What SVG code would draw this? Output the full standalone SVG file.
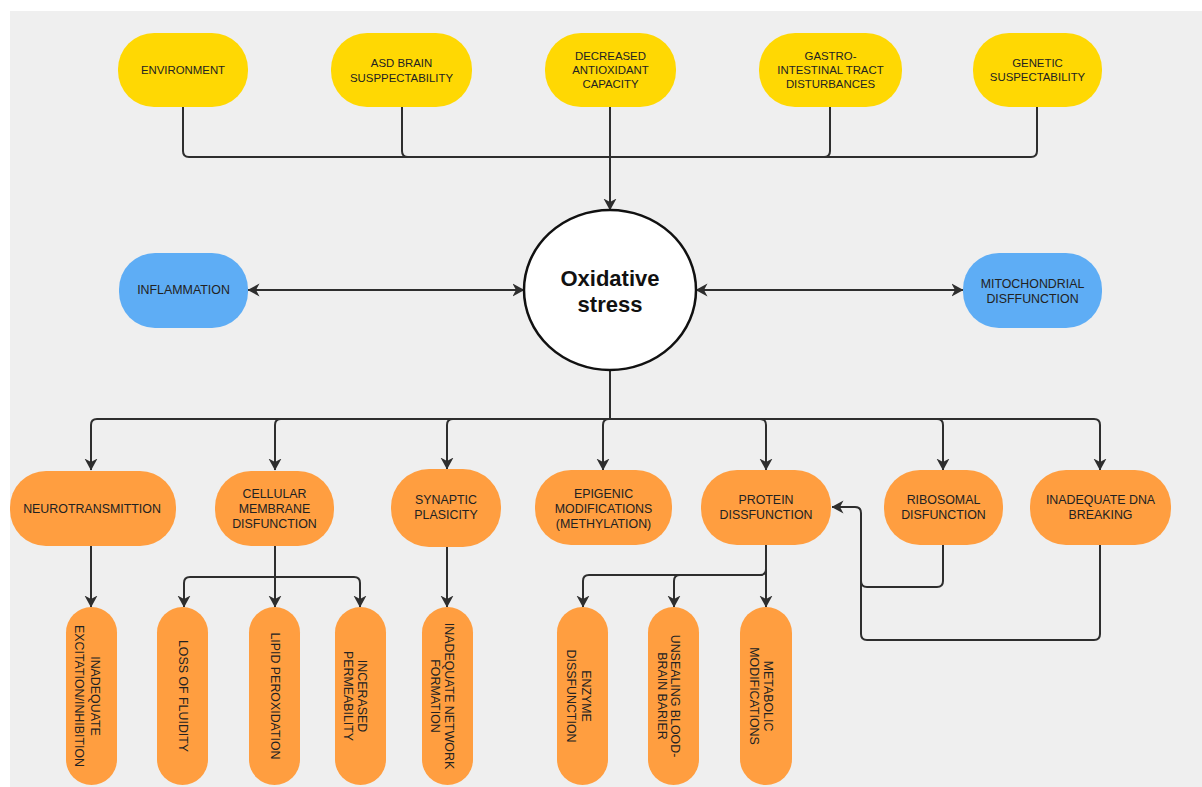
<svg xmlns="http://www.w3.org/2000/svg" width="1202" height="787" viewBox="0 0 1202 787">
<defs>
<style>
.y{fill:#FFD803}
.b{fill:#5EADF5}
.o{fill:#FF9E40}
.t{font-family:"Liberation Sans",Arial,sans-serif;font-size:11.4px;fill:#222;text-anchor:middle;dominant-baseline:central}
.to{font-size:12.4px}
.c{fill:none;stroke:#2e2e2e;stroke-width:2}
.a{marker-end:url(#ah)}
</style>
<marker id="ah" viewBox="0 0 12 14" refX="11.5" refY="7" markerWidth="12" markerHeight="14" markerUnits="userSpaceOnUse" orient="auto-start-reverse">
<path d="M0,0.5 L12,7 L0,13.5 L3.5,7 z" fill="#2e2e2e"/>
</marker>
</defs>
<rect x="0" y="0" width="1202" height="787" fill="#ffffff"/>
<rect x="10" y="11" width="1192" height="776" fill="#EFEFEF"/>

<g id="connectors">
<path class="c" d="M183 107 V151 Q183 157 189 157 H1031 Q1037 157 1037 151 V107"/>
<path class="c" d="M402 107 V151 Q402 157 408 157"/>
<path class="c" d="M830 107 V151 Q830 157 824 157"/>
<path class="c a" d="M610 107 V210"/>
<path class="c a" d="M248 290 H524" marker-start="url(#ah)"/>
<path class="c a" d="M696 290 H963" marker-start="url(#ah)"/>
<path class="c" d="M610 370 V419 M97 419 H1094"/>
<path class="c a" d="M97 419 Q91 419 91 425 V470"/>
<path class="c a" d="M281 419 Q275 419 275 425 V470"/>
<path class="c a" d="M453 419 Q447 419 447 425 V469"/>
<path class="c a" d="M609 419 Q603 419 603 425 V470"/>
<path class="c a" d="M760 419 Q766 419 766 425 V470"/>
<path class="c a" d="M937 419 Q943 419 943 425 V470"/>
<path class="c a" d="M1094 419 Q1100 419 1100 425 V470"/>
<path class="c a" d="M91 546 V607"/>
<path class="c a" d="M275 546 V607"/>
<path class="c" d="M190 577 H354"/>
<path class="c a" d="M190 577 Q184 577 184 583 V607"/>
<path class="c a" d="M354 577 Q360 577 360 583 V607"/>
<path class="c a" d="M447 547 V607"/>
<path class="c a" d="M766 545 V607"/>
<path class="c a" d="M766 569 Q766 575 760 575 H589 Q583 575 583 581 V607"/>
<path class="c a" d="M680 575 Q674 575 674 581 V607"/>
<path class="c" d="M943 545 V581 Q943 587 937 587 H867 Q861 587 861 581"/>
<path class="c a" d="M1100 545 V634 Q1100 640 1094 640 H867 Q861 640 861 634 V513 Q861 507 855 507 H832"/>
</g>

<g id="n-environment"><rect class="y" x="118" y="33" width="130" height="74" rx="36"/><text class="t" x="183" y="70">ENVIRONMENT</text></g>
<g id="n-asd"><rect class="y" x="331" y="33" width="141" height="74" rx="36"/><text class="t"><tspan x="401.5" y="62.5">ASD BRAIN</tspan><tspan x="401.5" y="77.5">SUSPPECTABILITY</tspan></text></g>
<g id="n-antioxidant"><rect class="y" x="545" y="33" width="131" height="74" rx="36"/><text class="t"><tspan x="610.5" y="55.5">DECREASED</tspan><tspan x="610.5" y="69.5">ANTIOXIDANT</tspan><tspan x="610.5" y="83.5">CAPACITY</tspan></text></g>
<g id="n-gastro"><rect class="y" x="759" y="33" width="143" height="74" rx="36"/><text class="t"><tspan x="830.5" y="55.5">GASTRO-</tspan><tspan x="830.5" y="69.5">INTESTINAL TRACT</tspan><tspan x="830.5" y="83.5">DISTURBANCES</tspan></text></g>
<g id="n-genetic"><rect class="y" x="973" y="33" width="129" height="74" rx="36"/><text class="t"><tspan x="1037.5" y="62.5">GENETIC</tspan><tspan x="1037.5" y="77">SUSPECTABILITY</tspan></text></g>

<g id="n-oxidative"><ellipse cx="610" cy="290" rx="86" ry="80" fill="#ffffff" stroke="#111" stroke-width="2.5"/><text font-family="'Liberation Sans',Arial,sans-serif" font-weight="bold" font-size="22" fill="#111" text-anchor="middle"><tspan x="610" y="286">Oxidative</tspan><tspan x="610" y="312">stress</tspan></text></g>
<g id="n-inflammation"><rect class="b" x="119" y="253" width="129" height="75" rx="36"/><text class="t to" x="183.5" y="290">INFLAMMATION</text></g>
<g id="n-mito"><rect class="b" x="963" y="253" width="139" height="75" rx="36"/><text class="t to"><tspan x="1032.5" y="284">MITOCHONDRIAL</tspan><tspan x="1032.5" y="299">DISFFUNCTION</tspan></text></g>

<g id="n-neuro"><rect class="o" x="10" y="471" width="166" height="75" rx="36"/><text class="t to" x="92" y="509">NEUROTRANSMITTION</text></g>
<g id="n-cellular"><rect class="o" x="215" y="471" width="119" height="75" rx="36"/><text class="t to"><tspan x="274.5" y="494">CELLULAR</tspan><tspan x="274.5" y="509">MEMBRANE</tspan><tspan x="274.5" y="524">DISFUNCTION</tspan></text></g>
<g id="n-synaptic"><rect class="o" x="391" y="469" width="110" height="78" rx="38"/><text class="t to"><tspan x="446" y="500">SYNAPTIC</tspan><tspan x="446" y="515">PLASICITY</tspan></text></g>
<g id="n-epigenic"><rect class="o" x="535" y="470" width="137" height="75" rx="36"/><text class="t to"><tspan x="603.5" y="494">EPIGENIC</tspan><tspan x="603.5" y="509">MODIFICATIONS</tspan><tspan x="603.5" y="524">(METHYLATION)</tspan></text></g>
<g id="n-protein"><rect class="o" x="701" y="470" width="130" height="75" rx="36"/><text class="t to"><tspan x="766" y="500">PROTEIN</tspan><tspan x="766" y="515">DISSFUNCTION</tspan></text></g>
<g id="n-ribosomal"><rect class="o" x="884" y="470" width="119" height="75" rx="36"/><text class="t to"><tspan x="943.5" y="500">RIBOSOMAL</tspan><tspan x="943.5" y="515">DISFUNCTION</tspan></text></g>
<g id="n-dna"><rect class="o" x="1030" y="470" width="141" height="75" rx="36"/><text class="t to"><tspan x="1100.5" y="500">INADEQUATE DNA</tspan><tspan x="1100.5" y="515">BREAKING</tspan></text></g>

<g id="n-excitation"><rect class="o" x="66" y="607" width="51" height="178" rx="25.5"/><text class="t to" transform="translate(91.5,696) rotate(90)"><tspan x="0" y="-3">INADEQUATE</tspan><tspan x="0" y="12.5">EXCITATION/INHIBITION</tspan></text></g>
<g id="n-fluidity"><rect class="o" x="157" y="607" width="51" height="178" rx="25.5"/><text class="t to" transform="translate(182.5,696) rotate(90)" x="0" y="0">LOSS OF FLUIDITY</text></g>
<g id="n-lipid"><rect class="o" x="249" y="607" width="51" height="178" rx="25.5"/><text class="t to" transform="translate(274.5,696) rotate(90)" x="0" y="0">LIPID PEROXIDATION</text></g>
<g id="n-permeability"><rect class="o" x="335" y="607" width="51" height="178" rx="25.5"/><text class="t to" transform="translate(360.5,696) rotate(90)"><tspan x="0" y="-1.5">INCERASED</tspan><tspan x="0" y="13">PERMEABILITY</tspan></text></g>
<g id="n-network"><rect class="o" x="422" y="607" width="51" height="178" rx="25.5"/><text class="t to" transform="translate(447.5,696) rotate(90)"><tspan x="0" y="-1.5">INADEQUATE NETWORK</tspan><tspan x="0" y="13">FORMATION</tspan></text></g>
<g id="n-enzyme"><rect class="o" x="557" y="607" width="51" height="178" rx="25.5"/><text class="t to" transform="translate(582.5,696) rotate(90)"><tspan x="0" y="-3.5">ENZYME</tspan><tspan x="0" y="12">DISSFUNCTION</tspan></text></g>
<g id="n-unsealing"><rect class="o" x="648" y="607" width="51" height="178" rx="25.5"/><text class="t to" transform="translate(673.5,696) rotate(90)"><tspan x="0" y="-1.5">UNSEALING BLOOD-</tspan><tspan x="0" y="12">BRAIN BARIER</tspan></text></g>
<g id="n-metabolic"><rect class="o" x="740" y="607" width="52" height="178" rx="26"/><text class="t to" transform="translate(766,696) rotate(90)"><tspan x="0" y="-2">METABOLIC</tspan><tspan x="0" y="12">MODIFICATIONS</tspan></text></g>
</svg>
